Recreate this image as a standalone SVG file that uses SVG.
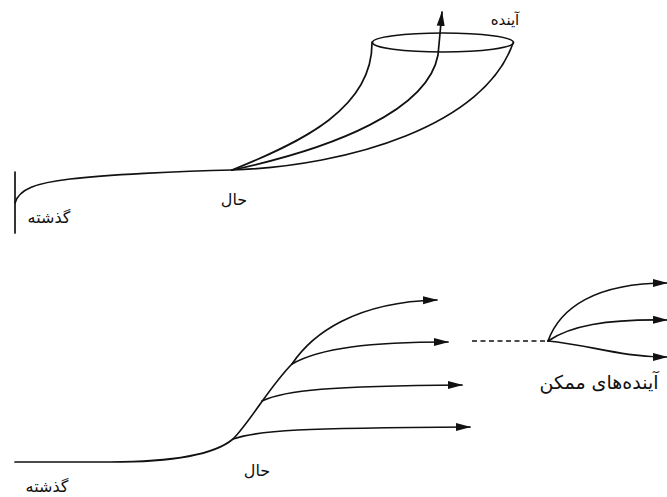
<svg xmlns="http://www.w3.org/2000/svg" width="667" height="497" viewBox="0 0 667 497">
<defs>
<marker id="ah" markerUnits="userSpaceOnUse" markerWidth="16" markerHeight="10" refX="14" refY="5" orient="auto">
<path d="M0,1 L15,5 L0,9 Z" fill="#111"/>
</marker>
<style>
.ln{fill:none;stroke:#111;stroke-width:1.7;stroke-linecap:round;stroke-linejoin:round}
.ds{fill:none;stroke:#111;stroke-width:1.7;stroke-dasharray:5 3.5}
.lbl{font-family:"DejaVu Sans","Noto Sans",sans-serif;font-size:16px;fill:#111;text-anchor:middle}
</style>
</defs>
<rect width="667" height="497" fill="#fff"/>

<g id="top-diagram">
<g id="connectors-top">
<line class="ln" x1="15" y1="172" x2="15" y2="233"/>
<path class="ln" d="M15,203 C19,189 36,183 70,179 S180,171 232,170"/>
<path class="ln" d="M232,170 C302,142 373,108 372,42"/>
<path class="ln" d="M232,170 C335,148 428,110 438,55 L442,12" marker-end="url(#ah)"/>
<path class="ln" d="M232,170 C350,166 485,125 513,43"/>
<ellipse class="ln" cx="443" cy="42.5" rx="70.5" ry="9.5"/>
</g>
<g id="past-top"><text class="lbl" x="49" y="223">گذشته</text></g>
<g id="present-top"><text class="lbl" x="234" y="205">حال</text></g>
<g id="future-top"><text class="lbl" x="505" y="25" style="font-size:15px">آینده</text></g>
</g>

<g id="bottom-diagram">
<g id="connectors-bottom">
<path class="ln" d="M15,462 L110,462 C165,462 213,456 233,439 C250,422 270,386 292,364 C312,334 355,302 437,300" marker-end="url(#ah)"/>
<path class="ln" d="M292,364 C320,348 370,342 448,342" marker-end="url(#ah)"/>
<path class="ln" d="M262,401 C285,390 330,386 462,385" marker-end="url(#ah)"/>
<path class="ln" d="M233,439 C260,430 300,428 470,427" marker-end="url(#ah)"/>
<line class="ds" x1="472" y1="341" x2="548" y2="341"/>
<path class="ln" d="M548,341 C560,308 595,283 667,283" marker-end="url(#ah)"/>
<path class="ln" d="M548,341 C570,326 605,319 667,320" marker-end="url(#ah)"/>
<path class="ln" d="M548,341 C590,345 620,357 667,357" marker-end="url(#ah)"/>
</g>
<g id="past-bottom"><text class="lbl" x="47" y="492">گذشته</text></g>
<g id="present-bottom"><text class="lbl" x="257" y="476">حال</text></g>
<g id="possible-futures"><text class="lbl" x="599" y="389" style="font-size:19px">آینده‌های ممکن</text></g>
</g>
</svg>
